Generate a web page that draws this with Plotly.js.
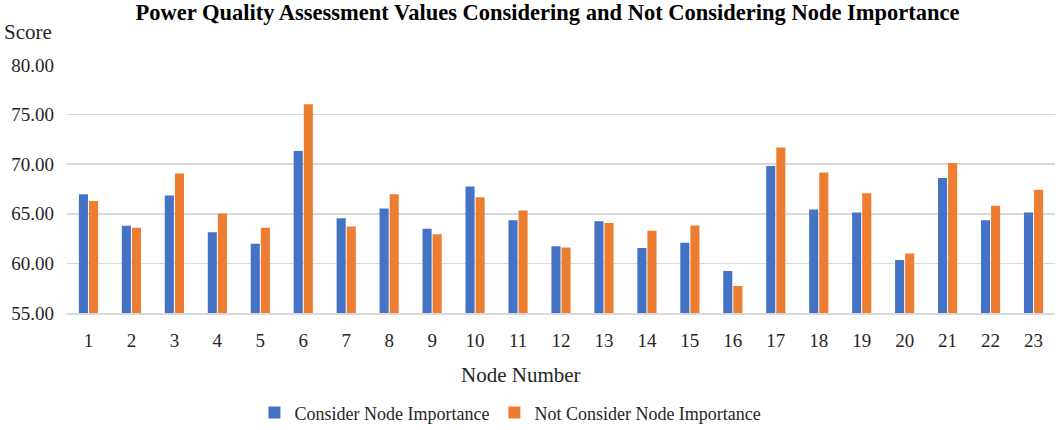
<!DOCTYPE html>
<html>
<head>
<meta charset="utf-8">
<script src="https://cdn.plot.ly/plotly-3.0.1.min.js"></script>
<style>html,body{margin:0;padding:0;background:#fff;}#chart{width:1059px;height:430px;}</style>
</head>
<body>
<div id="chart"></div>
<script>
const nodes = ['1','2','3','4','5','6','7','8','9','10','11','12','13','14','15','16','17','18','19','20','21','22','23'];
const considerImportance = [66.98, 63.8, 66.85, 63.15, 61.98, 71.34, 64.56, 65.54, 63.49, 67.75, 64.36, 61.74, 64.26, 61.54, 62.08, 59.23, 69.83, 65.44, 65.13, 60.34, 68.62, 64.36, 65.13];
const notConsiderImportance = [66.3, 63.6, 69.06, 65.03, 63.6, 76.04, 63.72, 66.98, 62.95, 66.68, 65.34, 61.61, 64.06, 63.29, 63.83, 57.72, 71.68, 69.16, 67.08, 61.0, 70.13, 65.81, 67.42];
const yTicks = [55, 60, 65, 70, 75, 80];

const serif = 'Liberation Serif';

const traces = [
  {type: 'bar', name: 'Consider Node Importance', x: nodes, y: considerImportance,
   marker: {color: '#4472C4'}, hoverinfo: 'x+y'},
  {type: 'bar', name: 'Not Consider Node Importance', x: nodes, y: notConsiderImportance,
   marker: {color: '#ED7D31'}, hoverinfo: 'x+y'}
];

const layout = {
  width: 1059, height: 430,
  margin: {l: 67, r: 4, t: 65, b: 117},
  paper_bgcolor: '#ffffff', plot_bgcolor: '#ffffff',
  font: {family: serif, color: '#262626', size: 19},
  barmode: 'group', bargap: 0.53, bargroupgap: 0.1,
  title: {text: '<b>Power Quality Assessment Values Considering and Not Considering Node Importance</b>',
          font: {family: serif, size: 22.5, color: '#000000'},
          x: 0.517, xref: 'container', xanchor: 'center', y: 0.972, yref: 'container', yanchor: 'middle'},
  xaxis: {type: 'category', tickfont: {size: 19, family: serif, color: '#262626'},
          showgrid: false, showline: true, linecolor: '#d9d9d9', linewidth: 1.5,
          ticks: '', ticklabelstandoff: 10, fixedrange: true},
  yaxis: {range: [55, 80], tickvals: yTicks, tickformat: '.2f',
          tickfont: {size: 19, family: serif, color: '#262626'},
          showgrid: true, gridcolor: '#d9d9d9', gridwidth: 1.5, zeroline: false,
          showline: false, ticks: '', ticklabelstandoff: 12, fixedrange: true},
  showlegend: true,
  legend: {orientation: 'h', xref: 'container', yref: 'container', x: 0.482, xanchor: 'center',
           y: 0.04, yanchor: 'middle', font: {size: 18, family: serif, color: '#262626'},
           itemwidth: 30, traceorder: 'normal'},
  annotations: [
    {text: 'Score', xref: 'paper', yref: 'paper', x: -0.066, y: 1.135, xanchor: 'left', yanchor: 'middle',
     showarrow: false, font: {size: 21, family: serif, color: '#262626'}},
    {text: 'Node Number', xref: 'paper', yref: 'paper', x: 0.460, y: -0.25, xanchor: 'center', yanchor: 'middle',
     showarrow: false, font: {size: 21, family: serif, color: '#262626'}}
  ]
};

Plotly.newPlot('chart', traces, layout, {displayModeBar: false, staticPlot: true});
</script>
</body>
</html>
